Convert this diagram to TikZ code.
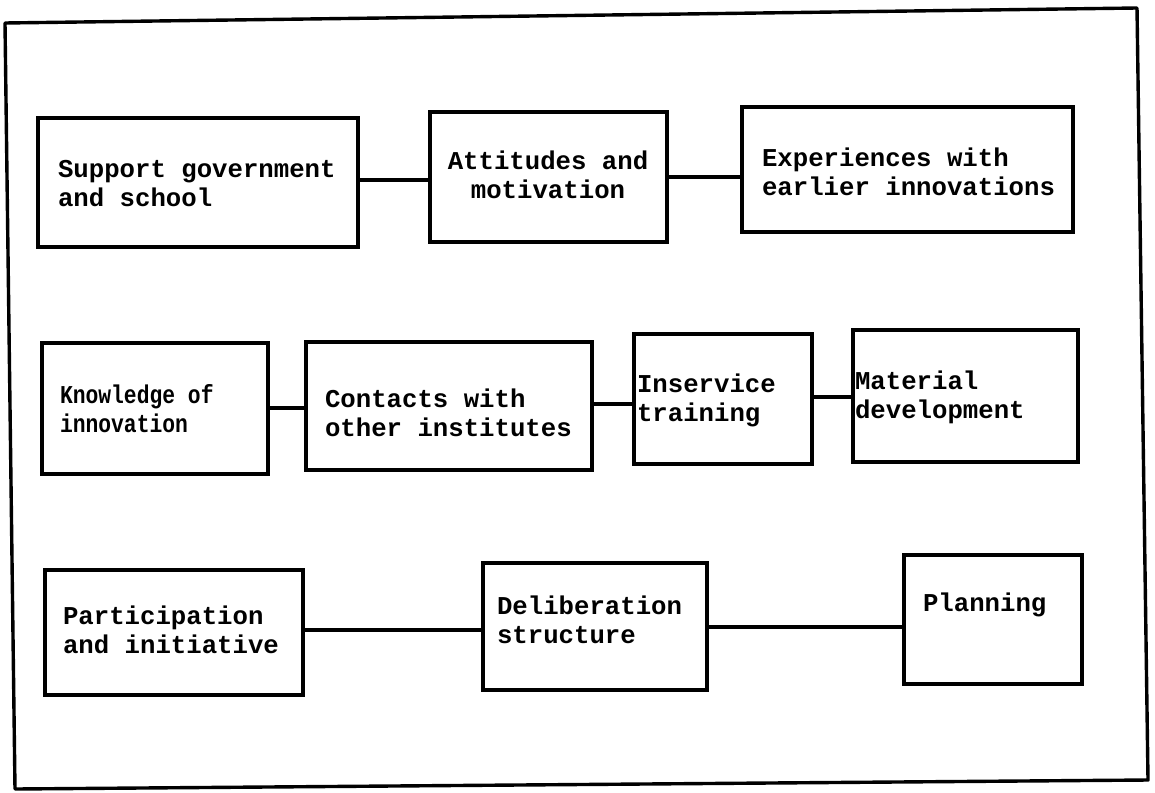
\documentclass[tikz,border=0pt]{standalone}
\usepackage{fontspec}
\newfontfamily\tw{Liberation Mono}
\newfontfamily\twn{Liberation Mono}[FakeStretch=0.83]
\begin{document}
\begin{tikzpicture}[x=1pt,y=-1pt,
  box/.style={draw, line width=3.4pt, inner sep=0pt, outer sep=0pt},
  lbl/.style={inner sep=0pt, outer sep=0pt, align=left, anchor=west,
    font=\tw\bfseries\fontsize{25.7}{29}\selectfont},
  lblc/.style={lbl, align=center, anchor=center},
  lbln/.style={lbl, font=\twn\bfseries\fontsize{25.7}{29}\selectfont},
  link/.style={line width=3.4pt},
  frame/.style={line width=3.4pt, line join=round}]
\useasboundingbox (0,0) rectangle (1155,792);
% outer frame
\draw[frame] (5,23) -- (1137,8) -- (1148,780) -- (15,789) -- cycle;
% row 1
\node[box, minimum width=320pt, minimum height=129pt] (b1) at (198,182.5) {};
\node[box, minimum width=237pt, minimum height=130pt] (b2) at (548.5,177) {};
\node[box, minimum width=331pt, minimum height=125pt] (b3) at (907.5,169.5) {};
\node[lbl] (t1) at (58,184) {Support government\\and school};
\node[lblc] (t2) at (548,175) {Attitudes and\\motivation};
\node[lbl] (t3) at (762,172) {Experiences with\\earlier innovations};
% row 2
\node[box, minimum width=226pt, minimum height=131pt] (bK) at (155,408.5) {};
\node[box, minimum width=286pt, minimum height=128pt] (bC) at (449,406) {};
\node[box, minimum width=178pt, minimum height=130pt] (bI) at (723,399) {};
\node[box, minimum width=225pt, minimum height=132pt] (bM) at (965.5,396) {};
\node[lbln] (tK) at (60,409) {Knowledge of\\innovation};
\node[lbl] (tC) at (325,413) {Contacts with\\other institutes};
\node[lbl] (tI) at (637,400.5) {Inservice\\training};
\node[lbl] (tM) at (855,397.5) {Material\\development};
% row 3
\node[box, minimum width=258pt, minimum height=125pt] (bP) at (174,632.5) {};
\node[box, minimum width=224pt, minimum height=127pt] (bD) at (595,626.5) {};
\node[box, minimum width=178pt, minimum height=129pt] (bL) at (993,619.5) {};
\node[lbl] (tP) at (63,630) {Participation\\and initiative};
\node[lbl] (tD) at (497,620) {Deliberation\\structure};
\node[lbl, anchor=base west] (tL) at (923,611) {Planning};
% connectors
\draw[link] (b1.east |- 0,180) -- (b2.west |- 0,180);
\draw[link] (b2.east |- 0,177) -- (b3.west |- 0,177);
\draw[link] (bK.east |- 0,408) -- (bC.west |- 0,408);
\draw[link] (bC.east |- 0,404) -- (bI.west |- 0,404);
\draw[link] (bI.east |- 0,397) -- (bM.west |- 0,397);
\draw[link] (bP.east |- 0,630) -- (bD.west |- 0,630);
\draw[link] (bD.east |- 0,627) -- (bL.west |- 0,627);
\end{tikzpicture}
\end{document}
